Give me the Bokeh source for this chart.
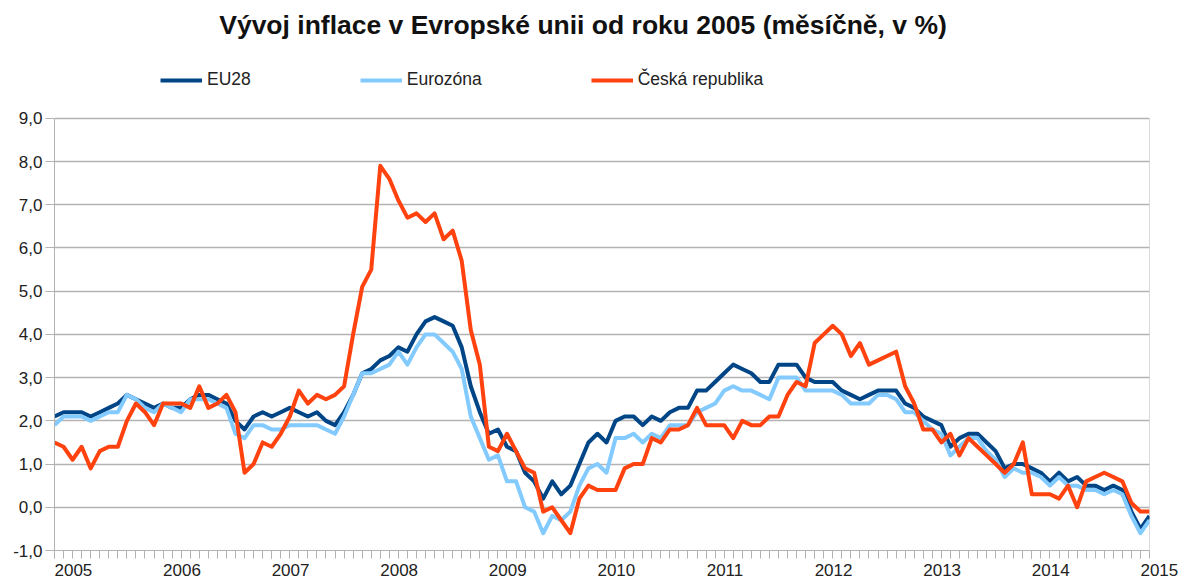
import numpy as np
from bokeh.plotting import figure
from bokeh.models import (ColumnDataSource, Legend, LegendItem, FixedTicker,
                          CustomJSTickFormatter, Range1d, Label)
from bokeh.embed import file_html
from bokeh.resources import INLINE

title_text = "Vývoj inflace v Evropské unii od roku 2005 (měsíčně, v %)"
years = ["2005", "2006", "2007", "2008", "2009", "2010",
         "2011", "2012", "2013", "2014", "2015"]
series_names = ["EU28", "Eurozóna", "Česká republika"]

# monthly values Jan 2005 .. Feb 2015
eu28 = [2.1, 2.2, 2.2, 2.2, 2.1, 2.2, 2.3, 2.4, 2.6, 2.5, 2.4, 2.3,
        2.4, 2.3, 2.3, 2.5, 2.6, 2.6, 2.5, 2.4, 2.0, 1.8, 2.1, 2.2,
        2.1, 2.2, 2.3, 2.2, 2.1, 2.2, 2.0, 1.9, 2.2, 2.6, 3.1, 3.2,
        3.4, 3.5, 3.7, 3.6, 4.0, 4.3, 4.4, 4.3, 4.2, 3.7, 2.8, 2.2,
        1.7, 1.8, 1.4, 1.3, 0.8, 0.6, 0.2, 0.6, 0.3, 0.5, 1.0, 1.5,
        1.7, 1.5, 2.0, 2.1, 2.1, 1.9, 2.1, 2.0, 2.2, 2.3, 2.3, 2.7,
        2.7, 2.9, 3.1, 3.3, 3.2, 3.1, 2.9, 2.9, 3.3, 3.3, 3.3, 3.0,
        2.9, 2.9, 2.9, 2.7, 2.6, 2.5, 2.6, 2.7, 2.7, 2.7, 2.4, 2.3,
        2.1, 2.0, 1.9, 1.4, 1.6, 1.7, 1.7, 1.5, 1.3, 0.9, 1.0, 1.0,
        0.9, 0.8, 0.6, 0.8, 0.6, 0.7, 0.5, 0.5, 0.4, 0.5, 0.4, -0.1,
        -0.5, -0.2]
eurozona = [1.9, 2.1, 2.1, 2.1, 2.0, 2.1, 2.2, 2.2, 2.6, 2.5, 2.3, 2.2,
            2.4, 2.3, 2.2, 2.5, 2.5, 2.5, 2.4, 2.3, 1.7, 1.6, 1.9, 1.9,
            1.8, 1.8, 1.9, 1.9, 1.9, 1.9, 1.8, 1.7, 2.1, 2.6, 3.1, 3.1,
            3.2, 3.3, 3.6, 3.3, 3.7, 4.0, 4.0, 3.8, 3.6, 3.2, 2.1, 1.6,
            1.1, 1.2, 0.6, 0.6, 0.0, -0.1, -0.6, -0.2, -0.3, -0.1, 0.5, 0.9,
            1.0, 0.8, 1.6, 1.6, 1.7, 1.5, 1.7, 1.6, 1.9, 1.9, 1.9, 2.2,
            2.3, 2.4, 2.7, 2.8, 2.7, 2.7, 2.6, 2.5, 3.0, 3.0, 3.0, 2.7,
            2.7, 2.7, 2.7, 2.6, 2.4, 2.4, 2.4, 2.6, 2.6, 2.5, 2.2, 2.2,
            2.0, 1.8, 1.7, 1.2, 1.4, 1.6, 1.6, 1.3, 1.1, 0.7, 0.9, 0.8,
            0.8, 0.7, 0.5, 0.7, 0.5, 0.5, 0.4, 0.4, 0.3, 0.4, 0.3, -0.2,
            -0.6, -0.3]
cesko = [1.5, 1.4, 1.1, 1.4, 0.9, 1.3, 1.4, 1.4, 2.0, 2.4, 2.2, 1.9,
         2.4, 2.4, 2.4, 2.3, 2.8, 2.3, 2.4, 2.6, 2.2, 0.8, 1.0, 1.5,
         1.4, 1.7, 2.1, 2.7, 2.4, 2.6, 2.5, 2.6, 2.8, 4.0, 5.1, 5.5,
         7.9, 7.6, 7.1, 6.7, 6.8, 6.6, 6.8, 6.2, 6.4, 5.7, 4.1, 3.3,
         1.4, 1.3, 1.7, 1.3, 0.9, 0.8, -0.1, 0.0, -0.3, -0.6, 0.2, 0.5,
         0.4, 0.4, 0.4, 0.9, 1.0, 1.0, 1.6, 1.5, 1.8, 1.8, 1.9, 2.3,
         1.9, 1.9, 1.9, 1.6, 2.0, 1.9, 1.9, 2.1, 2.1, 2.6, 2.9, 2.8,
         3.8, 4.0, 4.2, 4.0, 3.5, 3.8, 3.3, 3.4, 3.5, 3.6, 2.8, 2.4,
         1.8, 1.8, 1.5, 1.7, 1.2, 1.6, 1.4, 1.2, 1.0, 0.8, 1.0, 1.5,
         0.3, 0.3, 0.3, 0.2, 0.5, 0.0, 0.6, 0.7, 0.8, 0.7, 0.6, 0.1,
         -0.1, -0.1]

colors = ["#004586", "#83caff", "#ff420e"]
GRID = "#b3b3b3"
FONT = "Liberation Sans"
Y_MIN, Y_MAX = -1, 9

# layout (pixels)
FRAME_LEFT, FRAME_RIGHT, FRAME_BOTTOM = 54, 1149, 551
PLOT_TOP = 118           # pixel row of the 9,0 gridline
W, H = 1184, 582
px_per_unit = (FRAME_BOTTOM - PLOT_TOP) / (Y_MAX - Y_MIN)
y_top = Y_MAX + PLOT_TOP / px_per_unit   # frame reaches the top of the canvas

n = len(eu28)
src = ColumnDataSource(data=dict(x=list(range(n)), eu28=eu28,
                                 eurozona=eurozona, cesko=cesko))

p = figure(width=W, height=H, output_backend="svg", toolbar_location=None,
           title=None,
           x_range=Range1d(0, n - 1), y_range=Range1d(Y_MIN, y_top),
           min_border_left=FRAME_LEFT, min_border_right=W - FRAME_RIGHT,
           min_border_top=0, min_border_bottom=H - FRAME_BOTTOM)
p.background_fill_color = "white"
p.border_fill_color = "white"
p.outline_line_color = None

# right border of the plot wall
p.segment(x0=[n - 1], y0=[Y_MIN], x1=[n - 1], y1=[Y_MAX],
          line_color=GRID, line_width=1)

r1 = p.line("x", "eu28", source=src, line_color=colors[0], line_width=4, line_join="round")
r2 = p.line("x", "eurozona", source=src, line_color=colors[1], line_width=4, line_join="round")
r3 = p.line("x", "cesko", source=src, line_color=colors[2], line_width=4, line_join="round")

# title (screen offsets from the frame's bottom-left)
title = Label(text=title_text, x=528.5, y=FRAME_BOTTOM - 25,
              x_units="screen", y_units="screen",
              text_align="center", text_baseline="middle",
              text_font=FONT, text_font_style="bold", text_font_size="26.5px",
              text_color="#111111")
p.add_layout(title)

# legend, placed above the plot wall (offsets from the frame's bottom-left)
legend = Legend(items=[LegendItem(label=series_names[0], renderers=[r1]),
                       LegendItem(label=series_names[1], renderers=[r2]),
                       LegendItem(label=series_names[2], renderers=[r3])],
                orientation="horizontal", location=(106, 460), margin=0,
                padding=0, spacing=109, glyph_width=42, glyph_height=20,
                label_height=20, label_standoff=5,
                label_text_font=FONT, label_text_font_size="17.5px",
                label_text_color="#222222",
                border_line_color=None, background_fill_alpha=0)
p.add_layout(legend)

# y axis
p.yaxis.ticker = FixedTicker(ticks=list(range(Y_MIN, Y_MAX + 1)))
p.yaxis.bounds = (Y_MIN, Y_MAX)
p.yaxis.formatter = CustomJSTickFormatter(code="return tick.toFixed(1).replace('.', ',');")
p.yaxis.axis_line_color = GRID
p.yaxis.major_tick_line_color = GRID
p.yaxis.major_tick_out = 9
p.yaxis.major_tick_in = 0
p.yaxis.minor_tick_line_color = None
p.yaxis.major_label_standoff = 3
p.yaxis.major_label_text_font = FONT
p.yaxis.major_label_text_font_size = "17px"
p.yaxis.major_label_text_color = "#222222"

# x axis: year labels start at the January tick (left aligned via no-break padding)
pad = "\u00a0" * 8
p.xaxis.ticker = FixedTicker(ticks=[12 * i for i in range(len(years))],
                             minor_ticks=list(range(n)))
p.xaxis.major_label_overrides = {12 * i: pad + y for i, y in enumerate(years)}
p.xaxis.axis_line_color = GRID
p.xaxis.major_tick_line_color = GRID
p.xaxis.minor_tick_line_color = GRID
p.xaxis.major_tick_out = 8
p.xaxis.major_tick_in = 0
p.xaxis.minor_tick_out = 8
p.xaxis.minor_tick_in = 0
p.xaxis.major_label_standoff = 2
p.xaxis.major_label_text_font = FONT
p.xaxis.major_label_text_font_size = "17px"
p.xaxis.major_label_text_color = "#222222"

p.xgrid.visible = False
p.ygrid.grid_line_color = GRID
p.ygrid.grid_line_width = 1.5

open("out.html", "w").write(file_html(p, INLINE))
